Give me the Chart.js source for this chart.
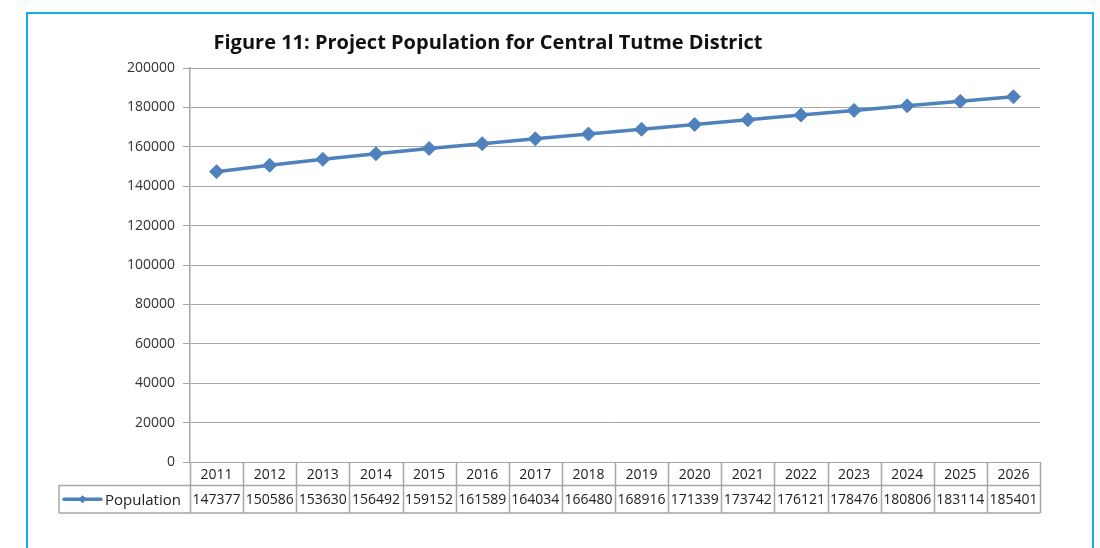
<!DOCTYPE html>
<html>
<head>
<meta charset="utf-8">
<script src="https://cdn.jsdelivr.net/npm/chart.js@4/dist/chart.umd.min.js"></script>
<style>
  html, body { margin: 0; padding: 0; background: #fff; }
  #wrap { position: relative; width: 1100px; height: 548px; overflow: hidden; }
  #frame { position: absolute; left: 26px; top: 12px; width: 1068px; height: 600px; border: 2px solid #12aeea; box-sizing: border-box; }
  #c { position: absolute; left: 0; top: 0; }
</style>
</head>
<body>
<div id="wrap">
  <div id="frame"></div>
  <canvas id="c" width="1100" height="548"></canvas>
</div>
<script>
const chartTitle = "Figure 11: Project Population for Central Tutme District";
const seriesName = "Population";
const years = ["2011","2012","2013","2014","2015","2016","2017","2018","2019","2020","2021","2022","2023","2024","2025","2026"];
const population = [147377,150586,153630,156492,159152,161589,164034,166480,168916,171339,173742,176121,178476,180806,183114,185401];
const yMin = 0, yMax = 200000, yStep = 20000;

const FONT = "'Open Sans', 'DejaVu Sans', sans-serif";
const LINE_COLOR = "#4f81bd";
const TABLE_COLOR = "#a6a6a6";

const tablePlugin = {
  id: 'dataTable',
  afterDraw(chart) {
    const ctx = chart.ctx;
    const xs = chart.scales.x;
    const area = chart.chartArea;
    const n = years.length;
    const colW = (area.right - area.left) / n;
    const top = area.bottom;
    const mid = top + 23.5;
    const bot = mid + 27.5;
    const legendLeft = 59;
    ctx.save();
    // title
    ctx.fillStyle = "#111";
    ctx.font = "bold 20px " + FONT;
    ctx.textAlign = "center";
    ctx.textBaseline = "middle";
    ctx.fillText(chartTitle, 488, 43);
    // table lines
    ctx.strokeStyle = TABLE_COLOR;
    ctx.lineWidth = 1.5;
    ctx.beginPath();
    ctx.moveTo(legendLeft, mid); ctx.lineTo(area.right, mid);
    ctx.moveTo(legendLeft, bot); ctx.lineTo(area.right, bot);
    ctx.moveTo(legendLeft, mid); ctx.lineTo(legendLeft, bot);
    for (let i = 0; i <= n; i++) {
      const px = (i < n ? xs.getPixelForValue(i) - colW / 2 : xs.getPixelForValue(n - 1) + colW / 2);
      ctx.moveTo(Math.round(px) + 0.5, top);
      ctx.lineTo(Math.round(px) + 0.5, bot);
    }
    ctx.stroke();
    // text
    ctx.fillStyle = "#222";
    ctx.font = "14px " + FONT;
    ctx.textAlign = "center";
    for (let i = 0; i < n; i++) {
      const cx = xs.getPixelForValue(i);
      ctx.fillText(years[i], cx, (top + mid) / 2 + 1);
      ctx.fillText(String(population[i]), cx, (mid + bot) / 2 + 1);
    }
    // legend key
    const ly = (mid + bot) / 2;
    ctx.strokeStyle = LINE_COLOR;
    ctx.lineWidth = 3.5;
    ctx.lineCap = "round";
    ctx.beginPath();
    ctx.moveTo(64, ly); ctx.lineTo(101, ly);
    ctx.stroke();
    ctx.fillStyle = LINE_COLOR;
    ctx.beginPath();
    ctx.moveTo(82.5, ly - 4); ctx.lineTo(86.5, ly); ctx.lineTo(82.5, ly + 4); ctx.lineTo(78.5, ly);
    ctx.closePath(); ctx.fill();
    ctx.fillStyle = "#222";
    ctx.font = "15px " + FONT;
    ctx.textAlign = "left";
    ctx.fillText(seriesName, 105, ly + 1);
    ctx.restore();
  }
};

new Chart(document.getElementById('c'), {
  type: 'line',
  data: {
    labels: years,
    datasets: [{
      label: seriesName,
      data: population,
      borderColor: LINE_COLOR,
      backgroundColor: LINE_COLOR,
      borderWidth: 3.5,
      pointStyle: 'rectRot',
      pointRadius: 7,
      pointHoverRadius: 7,
      pointBackgroundColor: LINE_COLOR,
      pointBorderColor: LINE_COLOR,
      pointBorderWidth: 1,
      tension: 0
    }]
  },
  options: {
    responsive: false,
    animation: false,
    devicePixelRatio: 1,
    layout: { padding: { left: 0, right: 60, top: 68, bottom: 0 } },
    plugins: {
      legend: { display: false },
      title: { display: false },
      tooltip: { enabled: false }
    },
    scales: {
      x: {
        type: 'category',
        offset: true,
        grid: { display: false },
        border: { display: false },
        ticks: { display: false },
        afterFit(s) { s.height = 86; }
      },
      y: {
        min: yMin,
        max: yMax,
        ticks: {
          stepSize: yStep,
          color: "#333",
          font: { family: FONT, size: 14 },
          padding: 8,
          callback: (v) => String(v)
        },
        grid: { color: "#a6a6a6", lineWidth: 1, tickLength: 7, drawTicks: true },
        border: { display: true, color: "#a6a6a6", width: 1.5 },
        afterFit(s) { s.width = 190; }
      }
    }
  },
  plugins: [tablePlugin]
});
</script>
</body>
</html>
